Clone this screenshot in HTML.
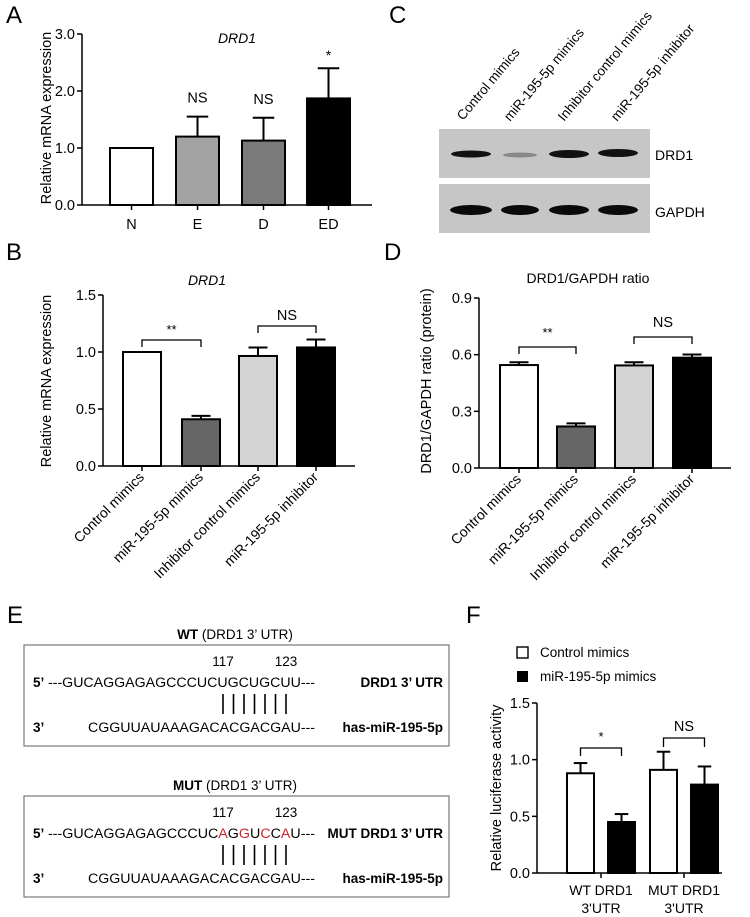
<!DOCTYPE html>
<html><head><meta charset="utf-8"><style>
html,body{margin:0;padding:0;background:#fff}
svg{display:block;font-family:"Liberation Sans",Arial,sans-serif}
</style></head><body>
<svg id="fig" width="750" height="917" viewBox="0 0 750 917" xmlns="http://www.w3.org/2000/svg">
<g font-size="24" fill="#000">
<text x="6" y="23">A</text>
<text x="6" y="260">B</text>
<text x="389" y="23">C</text>
<text x="384" y="260">D</text>
<text x="7" y="623">E</text>
<text x="466" y="623">F</text>
</g>
<!-- Panel C blot -->
<g>
<rect x="439" y="129" width="211" height="49" fill="#c6c6c6"/>
<rect x="439" y="184" width="211" height="49" fill="#c6c6c6"/>
<ellipse cx="471" cy="154" rx="20" ry="3.5" fill="#111"/>
<ellipse cx="520" cy="155" rx="17" ry="2.5" fill="#888"/>
<ellipse cx="569" cy="154" rx="20" ry="4" fill="#111"/>
<ellipse cx="618" cy="153" rx="20" ry="4" fill="#111"/>
<ellipse cx="471" cy="210" rx="21" ry="5" fill="#0a0a0a"/>
<ellipse cx="520" cy="210" rx="19" ry="5" fill="#0a0a0a"/>
<ellipse cx="569" cy="210" rx="20" ry="5" fill="#0a0a0a"/>
<ellipse cx="618" cy="210" rx="20" ry="5" fill="#0a0a0a"/>
<text x="655" y="160" font-size="14">DRD1</text>
<text x="655" y="217" font-size="14">GAPDH</text>
<g font-size="13.5">
<text transform="translate(463,121) rotate(-50)">Control mimics</text>
<text transform="translate(510,122) rotate(-50)">miR-195-5p mimics</text>
<text transform="translate(564,122) rotate(-50)">Inhibitor control mimics</text>
<text transform="translate(617,122) rotate(-50)">miR-195-5p inhibitor</text>
</g>
</g>
<!-- Panel E -->
<g font-size="13.5">
<text x="235" y="639" text-anchor="middle"><tspan font-weight="bold">WT</tspan> (DRD1  3’ UTR)</text>
<rect x="24" y="645" width="425" height="101" fill="none" stroke="#777" stroke-width="1.2"/>
<text x="223" y="666" text-anchor="middle">117</text><text x="286" y="666" text-anchor="middle">123</text>
<text x="33" y="687" font-weight="bold">5’</text>
<text x="48" y="687" textLength="267" lengthAdjust="spacingAndGlyphs">---GUCAGGAGAGCCCUCUGCUGCUU---</text>
<text x="443" y="687" text-anchor="end" font-weight="bold">DRD1 3’ UTR</text>
<g id="wtbars" stroke="#000" stroke-width="1.6"></g>
<text x="33" y="732" font-weight="bold">3’</text>
<text x="88" y="732" textLength="227" lengthAdjust="spacingAndGlyphs">CGGUUAUAAAGACACGACGAU---</text>
<text x="443" y="732" text-anchor="end" font-weight="bold">has-miR-195-5p</text>

<text x="235" y="790" text-anchor="middle"><tspan font-weight="bold">MUT</tspan> (DRD1  3’ UTR)</text>
<rect x="24" y="796" width="425" height="101" fill="none" stroke="#777" stroke-width="1.2"/>
<text x="223" y="817" text-anchor="middle">117</text><text x="286" y="817" text-anchor="middle">123</text>
<text x="33" y="838" font-weight="bold">5’</text>
<text x="48" y="838" textLength="267" lengthAdjust="spacingAndGlyphs">---GUCAGGAGAGCCCUC<tspan fill="#d0202a">A</tspan>G<tspan fill="#d0202a">G</tspan>U<tspan fill="#d0202a">C</tspan>C<tspan fill="#d0202a">A</tspan>U---</text>
<text x="443" y="838" text-anchor="end" font-weight="bold">MUT DRD1 3’ UTR</text>
<g id="mutbars" stroke="#000" stroke-width="1.6"></g>
<text x="33" y="883" font-weight="bold">3’</text>
<text x="88" y="883" textLength="227" lengthAdjust="spacingAndGlyphs">CGGUUAUAAAGACACGACGAU---</text>
<text x="443" y="883" text-anchor="end" font-weight="bold">has-miR-195-5p</text>
</g>
<!-- Panel F legend -->
<g font-size="13.5">
<rect x="517" y="647" width="11" height="11" fill="#fff" stroke="#000" stroke-width="1.4"/>
<text x="540" y="657">Control mimics</text>
<rect x="517" y="671" width="11" height="11" fill="#000"/>
<text x="540" y="681">miR-195-5p mimics</text>
</g>
<g id="charts"></g>
</svg>
<script>
// Panel A data
const aCategories = ["N","E","D","ED"];
const aValues = [1.0, 1.2, 1.13, 1.87];
const aErrors = [0, 0.35, 0.4, 0.53];
const aTicks = ["0.0","1.0","2.0","3.0"];
const aSig = ["", "NS", "NS", "*"];
// Panel B data
const bCategories = ["Control mimics","miR-195-5p mimics","Inhibitor control mimics","miR-195-5p inhibitor"];
const bValues = [1.0, 0.41, 0.965, 1.04];
const bErrors = [0, 0.03, 0.075, 0.07];
const bTicks = ["0.0","0.5","1.0","1.5"];
// Panel D data
const dValues = [0.545, 0.22, 0.543, 0.584];
const dErrors = [0.015, 0.016, 0.017, 0.017];
const dTicks = ["0.0","0.3","0.6","0.9"];
// Panel F data
const fCategories = [["WT DRD1","3'UTR"],["MUT DRD1","3'UTR"]];
const fControl = [0.88, 0.91];
const fControlErr = [0.09, 0.16];
const fMimics = [0.45, 0.78];
const fMimicsErr = [0.07, 0.16];
const fTicks = ["0.0","0.5","1.0","1.5"];
// Pairing lines
const pairPositions = [117,118,119,120,121,122,123];

const NS = "http://www.w3.org/2000/svg";
const root = document.getElementById('charts');
function el(tag, attrs, parent, txt){
  const e = document.createElementNS(NS, tag);
  for (const k in attrs) e.setAttribute(k, attrs[k]);
  if (txt !== undefined) e.textContent = txt;
  (parent||root).appendChild(e);
  return e;
}
function axes(g, x0, x1, yFn, ticks, max, tickXs){
  const ax = el('line',{x1:x0,y1:yFn(0),x2:x0,y2:yFn(max),stroke:'#000','stroke-width':1.5},g);
  
  
  const bx = el('line',{x1:x0,y1:yFn(0),x2:x1,y2:yFn(0),stroke:'#000','stroke-width':1.5},g);
  
  
  ticks.forEach((t,i)=>{
    const v = parseFloat(t);
    const y = yFn(v);
    el('line',{x1:x0-5,y1:y,x2:x0,y2:y,stroke:'#000','stroke-width':1.5},g);
    const tl = el('text',{x:x0-7,y:y+5,'text-anchor':'end','font-size':14.5},g,t);
    
    
  });
  tickXs.forEach(x=>el('line',{x1:x,y1:yFn(0),x2:x,y2:yFn(0)+5,stroke:'#000','stroke-width':1.5},g));
}
function bar(g, xl, w, yFn, v, err, fill, name){
  const r = el('rect',{x:xl,y:yFn(v),width:w,height:yFn(0)-yFn(v),fill:fill,stroke:'#000','stroke-width':2},g);
  
  
  if (err>0){
    const cx = xl + w/2;
    el('line',{x1:cx,y1:yFn(v),x2:cx,y2:yFn(v+err),stroke:'#000','stroke-width':2},g);
    el('line',{x1:cx-w/4,y1:yFn(v+err),x2:cx+w/4,y2:yFn(v+err),stroke:'#000','stroke-width':2},g);
  }
}
function bracket(g, xa, xb, y, drop, label, ty){
  el('path',{d:`M${xa},${y+drop}V${y}H${xb}V${y+drop}`,fill:'none',stroke:'#000','stroke-width':1.3},g);
  const t = el('text',{x:(xa+xb)/2,y:ty,'text-anchor':'middle','font-size':label==='NS'?14.5:13},g,label);
  
  
}
function ylabel(g, x, y, txt){
  const t = el('text',{transform:`translate(${x},${y}) rotate(-90)`,'text-anchor':'middle','font-size':14.5},g,txt);
  
  
}

// ---- Panel A
(function(){
  const g = el('g',{});
  
  
  const y = v => 205 - v*(205-34)/3;
  const lefts = [110,176,242,307], w = 43;
  const fills = ['#fff','#a3a3a3','#7a7a7a','#000'];
  axes(g, 82, 372, y, aTicks, 3, lefts.map(l=>l+w/2));
  aCategories.forEach((c,i)=>{
    bar(g, lefts[i], w, y, aValues[i], aErrors[i], fills[i], 'bar-a-'+c.toLowerCase());
    const t = el('text',{x:lefts[i]+w/2,y:229,'text-anchor':'middle','font-size':14.5},g,c);
    
    
    if (aSig[i]) {
      const s = el('text',{x:lefts[i]+w/2,y:y(aValues[i]+aErrors[i])-(aSig[i]==='*'?8:14),'text-anchor':'middle','font-size':aSig[i]==='*'?14:14.5},g,aSig[i]);
      
      
    }
  });
  const ti = el('text',{x:237,y:43,'text-anchor':'middle','font-size':14,'font-style':'italic'},g,'DRD1');
  
  
  ylabel(g, 51, 118, 'Relative mRNA expression');
})();

// ---- Panel B & D
function panelBD(name, axisX, lefts, yFn, vals, errs, ticks, max, title, italic, yl, ylx, br){
  const g = el('g',{});
  
  
  const w = 38;
  const fills = ['#fff','#666','#d4d4d4','#000'];
  axes(g, axisX, lefts[3]+w+20, yFn, ticks, max, lefts.map(l=>l+w/2));
  bCategories.forEach((c,i)=>{
    bar(g, lefts[i], w, yFn, vals[i], errs[i], fills[i], 'bar-'+name+'-'+i);
    const cx = lefts[i]+w/2;
    const t = el('text',{transform:`translate(${cx+3},${yFn(0)+12}) rotate(-45)`,'text-anchor':'end','font-size':14},g,c);
    
    
  });
  const ti = el('text',{x:title[1],y:title[2],'text-anchor':'middle','font-size':14,'font-style':italic?'italic':'normal'},g,title[0]);
  
  
  ylabel(g, ylx, 381, yl);
  const c = lefts.map(l=>l+w/2);
  bracket(g, c[0], c[1], br[0], 7, '**', br[1]);
  bracket(g, c[2], c[3], br[2], 7, 'NS', br[3]);
}
panelBD('panel-b-chart', 103, [123,182,239,297], v=>466 - v*(466-295)/1.5, bValues, bErrors, bTicks, 1.5, ['DRD1',207,285], true, 'Relative mRNA expression', 51, [340,334,326,320]);
panelBD('panel-d-chart', 479, [500,557,615,673], v=>468 - v*(468-298)/0.9, dValues, dErrors, dTicks, 0.9, ['DRD1/GAPDH ratio',588,283], false, 'DRD1/GAPDH ratio (protein)', 431, [347,337,337,327]);

// ---- Panel F
(function(){
  const g = el('g',{});
  
  
  const y = v => 873 - v*(873-703)/1.5;
  const groupLeft = [567,650], w = 27, gap = 41;
  const tx = [];
  groupLeft.forEach(l=>{tx.push(l+w/2); tx.push(l+gap+w/2);});
  axes(g, 537, 722, y, fTicks, 1.5, [groupLeft[0]+34, groupLeft[1]+34]);
  fCategories.forEach((c,i)=>{
    bar(g, groupLeft[i], w, y, fControl[i], fControlErr[i], '#fff', 'bar-f-control-'+i);
    bar(g, groupLeft[i]+gap, w, y, fMimics[i], fMimicsErr[i], '#000', 'bar-f-mimics-'+i);
    const cx = groupLeft[i]+34;
    const t1 = el('text',{x:cx,y:895,'text-anchor':'middle','font-size':14},g,c[0]);
    
    
    const t2 = el('text',{x:cx,y:913,'text-anchor':'middle','font-size':14},g,c[1]);
    
    
  });
  bracket(g, groupLeft[0]+w/2, groupLeft[0]+gap+w/2, 748, 8, '*', 741);
  bracket(g, groupLeft[1]+w/2, groupLeft[1]+gap+w/2, 738, 9, 'NS', 731);
  ylabel(g, 501, 788, 'Relative luciferase activity');
})();

// ---- pairing bars in panel E
const xStart = 223, xStep = (286-223)/6;
[['wtbars',694,714],['mutbars',845,865]].forEach(([id,y1,y2])=>{
  const g = document.getElementById(id);
  pairPositions.forEach(p=>{
    const x = xStart + (p-117)*xStep;
    const l = el('line',{x1:x,y1:y1,x2:x,y2:y2},g);
    
    
  });
});
</script>
</body></html>
